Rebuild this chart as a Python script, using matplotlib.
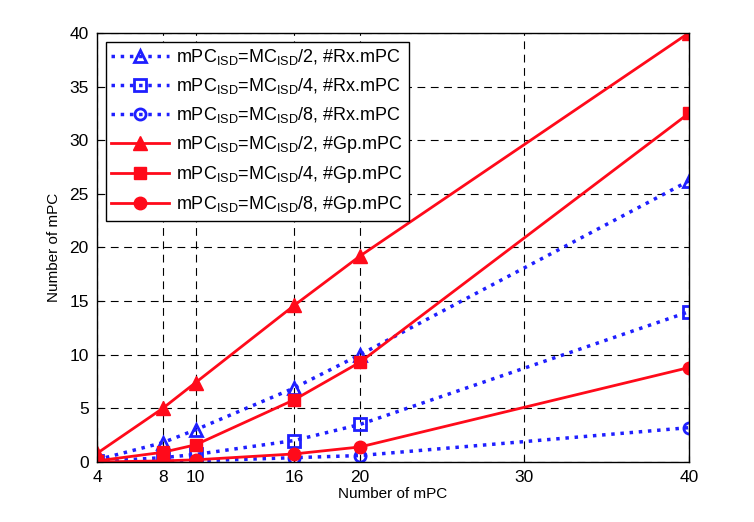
import numpy as np
import matplotlib
matplotlib.use('Agg')
import matplotlib.pyplot as plt

plt.rcParams['font.family'] = ['Liberation Sans', 'DejaVu Sans']
plt.rcParams['mathtext.fontset'] = 'custom'
plt.rcParams['mathtext.rm'] = 'Liberation Sans'
plt.rcParams['mathtext.it'] = 'Liberation Sans:italic'

# данные
x = [4, 8, 10, 16, 20, 40]
rx2 = [0.2, 1.8, 3.0, 6.9, 10.0, 26.2]
rx4 = [0.05, 0.4, 0.7, 2.0, 3.5, 14.0]
rx8 = [0.0, 0.05, 0.1, 0.4, 0.6, 3.2]
gp2 = [0.8, 5.0, 7.4, 14.6, 19.2, 40.0]
gp4 = [0.1, 0.9, 1.6, 5.8, 9.3, 32.5]
gp8 = [0.0, 0.1, 0.2, 0.75, 1.4, 8.8]
xticks = [4, 8, 10, 16, 20, 30, 40]
yticks = [0, 5, 10, 15, 20, 25, 30, 35, 40]

blue = '#1f1fff'
red = '#ff0a1a'

fig = plt.figure(figsize=(7.54, 5.22), dpi=100)
ax = fig.add_axes([0.1286, 0.115, 0.785, 0.822])

def lab(d, kind):
    return r'mPC$_{\rm ISD}$=MC$_{\rm ISD}$/' + d + ', #' + kind + '.mPC'

ax.plot(x, rx2, ':', color=blue, lw=2.5, marker='^', ms=9, mfc='none', mew=2, label=lab('2', 'Rx'))
ax.plot(x, rx4, ':', color=blue, lw=2.5, marker='s', ms=8, mfc='none', mew=2, label=lab('4', 'Rx'))
ax.plot(x, rx8, ':', color=blue, lw=2.5, marker='o', ms=8, mfc='none', mew=2, label=lab('8', 'Rx'))
ax.plot(x, gp2, '-', color=red, lw=2, marker='^', ms=10, label=lab('2', 'Gp'))
ax.plot(x, gp4, '-', color=red, lw=2, marker='s', ms=9, label=lab('4', 'Gp'))
ax.plot(x, gp8, '-', color=red, lw=2, marker='o', ms=9, label=lab('8', 'Gp'))

ax.set_xlim(4, 40)
ax.set_ylim(0, 40)
ax.set_xticks(xticks)
ax.set_yticks(yticks)
ax.tick_params(labelsize=12.5, direction='in', length=4, pad=6)
ax.grid(True, color='black', linestyle=(0, (7, 5)), lw=0.8)
ax.set_xlabel('Number of mPC', fontsize=11, labelpad=1)
ax.set_ylabel('Number of mPC', fontsize=11, labelpad=6)
for s in ax.spines.values():
    s.set_linewidth(1)

leg = ax.legend(loc='upper left', fontsize=13, fancybox=False, edgecolor='black',
                framealpha=1, handlelength=3.2, handletextpad=0.4, borderaxespad=0.5,
                labelspacing=0.5, borderpad=0.3)
leg.get_frame().set_linewidth(1)

fig.savefig('out.png', dpi=100)
